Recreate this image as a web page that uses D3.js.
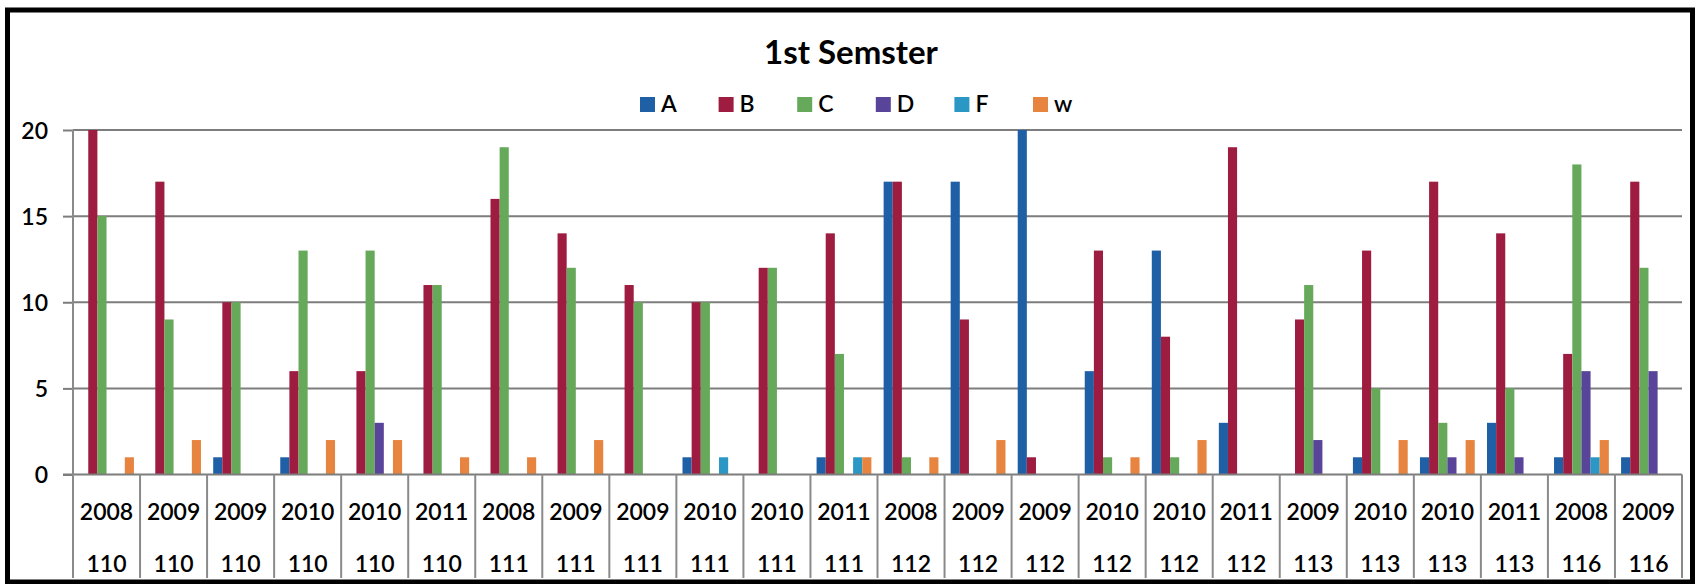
<!DOCTYPE html>
<html>
<head>
<meta charset="utf-8">
<script src="https://cdn.jsdelivr.net/npm/d3@7"></script>
<style>
  html, body { margin: 0; padding: 0; background: #fff; }
  svg { display: block; }
  text { font-family: Lato, "Open Sans", sans-serif; fill: #000; }
</style>
</head>
<body>
<svg id="chart" width="1702" height="584"></svg>
<script>
// Grade counts per course offering, first semester
const years   = ["2008","2009","2009","2010","2010","2011","2008","2009","2009","2010","2010","2011",
                 "2008","2009","2009","2010","2010","2011","2009","2010","2010","2011","2008","2009"];
const courses = ["110","110","110","110","110","110","111","111","111","111","111","111",
                 "112","112","112","112","112","112","113","113","113","113","116","116"];
const seriesNames = ["A","B","C","D","F","w"];
const gradeA = [0,0,1,1,0,0, 0,0,0,1,0,1, 17,17,20,6,13,3, 0,1,1,3, 1,1];
const gradeB = [20,17,10,6,6,11, 16,14,11,10,12,14, 17,9,1,13,8,19, 9,13,17,14, 7,17];
const gradeC = [15,9,10,13,13,11, 19,12,10,10,12,7, 1,0,0,1,1,0, 11,5,3,5, 18,12];
const gradeD = [0,0,0,0,3,0, 0,0,0,0,0,0, 0,0,0,0,0,0, 2,0,1,1, 6,6];
const gradeF = [0,0,0,0,0,0, 0,0,0,1,0,1, 0,0,0,0,0,0, 0,0,0,0, 1,0];
const gradeW = [1,2,0,2,2,1, 1,2,0,0,0,1, 1,2,0,1,2,0, 0,2,2,0, 2,0];
const yTicks = [0, 5, 10, 15, 20];
const seriesColors = ["#1f5fa6", "#9e1c40", "#67a95b", "#584498", "#2a97c4", "#e7843f"];

const seriesValues = [gradeA, gradeB, gradeC, gradeD, gradeF, gradeW];
const rows = years.map((yr, i) => ({
  i, year: yr, course: courses[i],
  vals: seriesNames.map((s, k) => ({ key: s, value: seriesValues[k][i] }))
}));

const svg = d3.select("#chart");
const W = 1702, H = 584;
const plot = { left: 73, right: 1682, top: 130, bottom: 474.5, tableBottom: 578 };
const labelSize = 23, labelWeight = 600;

svg.append("rect").attr("width", W).attr("height", H).attr("fill", "#fff");

const x = d3.scaleBand().domain(d3.range(years.length)).range([plot.left, plot.right]).padding(0);
const xs = d3.scaleBand().domain(seriesNames).range([0, x.bandwidth()]).paddingInner(0).paddingOuter(0.67);
const y = d3.scaleLinear().domain([0, 20]).range([plot.bottom, plot.top]);
const color = d3.scaleOrdinal().domain(seriesNames).range(seriesColors);

// horizontal gridlines
svg.append("g").selectAll("line").data(yTicks.filter(t => t > 0)).join("line")
  .attr("x1", plot.left).attr("x2", plot.right)
  .attr("y1", d => y(d)).attr("y2", d => y(d))
  .attr("stroke", "#7d7d7d").attr("stroke-width", 2);

// bars
const groups = svg.append("g").selectAll("g").data(rows).join("g")
  .attr("transform", d => `translate(${x(d.i)},0)`);
groups.selectAll("rect").data(d => d.vals.filter(v => v.value > 0)).join("rect")
  .attr("x", v => xs(v.key))
  .attr("width", xs.bandwidth())
  .attr("y", v => y(v.value))
  .attr("height", v => y(0) - y(v.value))
  .attr("fill", v => color(v.key));

// y axis
const yAxis = svg.append("g").attr("transform", `translate(${plot.left},0)`)
  .call(d3.axisLeft(y).tickValues(yTicks).tickSize(10).tickPadding(15).tickFormat(d3.format("d")));
yAxis.select(".domain").remove();
yAxis.selectAll(".tick line").attr("stroke", "#7d7d7d").attr("stroke-width", 2);
yAxis.selectAll(".tick text").attr("font-size", labelSize).attr("font-weight", labelWeight)
  .attr("font-family", "Lato").attr("fill", "#000").attr("dy", "0.36em");

// baseline and category table
svg.append("line").attr("x1", plot.left - 10).attr("x2", plot.right)
  .attr("y1", y(0)).attr("y2", y(0)).attr("stroke", "#7d7d7d").attr("stroke-width", 2);
svg.append("line").attr("x1", plot.left).attr("x2", plot.left)
  .attr("y1", y(20)).attr("y2", plot.tableBottom).attr("stroke", "#8a8a8a").attr("stroke-width", 2);
svg.append("g").selectAll("line").data(d3.range(1, years.length + 1)).join("line")
  .attr("x1", i => plot.left + i * x.step()).attr("x2", i => plot.left + i * x.step())
  .attr("y1", y(0)).attr("y2", plot.tableBottom)
  .attr("stroke", "#8a8a8a").attr("stroke-width", 2);

const labels = svg.append("g").attr("font-size", labelSize).attr("font-weight", labelWeight)
  .attr("text-anchor", "middle");
labels.selectAll("text.yr").data(rows).join("text").attr("class", "yr")
  .attr("x", d => x(d.i) + x.bandwidth() / 2).attr("y", 520).text(d => d.year);
labels.selectAll("text.cr").data(rows).join("text").attr("class", "cr")
  .attr("x", d => x(d.i) + x.bandwidth() / 2).attr("y", 572).text(d => d.course);

// title
svg.append("text").attr("x", 851).attr("y", 64).attr("text-anchor", "middle")
  .attr("font-size", 33).attr("font-weight", "bold").text("1st Semster");

// legend
const legend = svg.append("g").selectAll("g").data(seriesNames).join("g")
  .attr("transform", (d, i) => `translate(${640 + i * 78.6},97)`);
legend.append("rect").attr("width", 15).attr("height", 15).attr("fill", d => color(d));
legend.append("text").attr("x", 21).attr("y", 15).attr("font-size", labelSize)
  .attr("font-weight", labelWeight).text(d => d);

// outer frame
svg.append("rect").attr("x", 7.5).attr("y", 10).attr("width", 1685).attr("height", 572)
  .attr("fill", "none").attr("stroke", "#000").attr("stroke-width", 5);
</script>
</body>
</html>
